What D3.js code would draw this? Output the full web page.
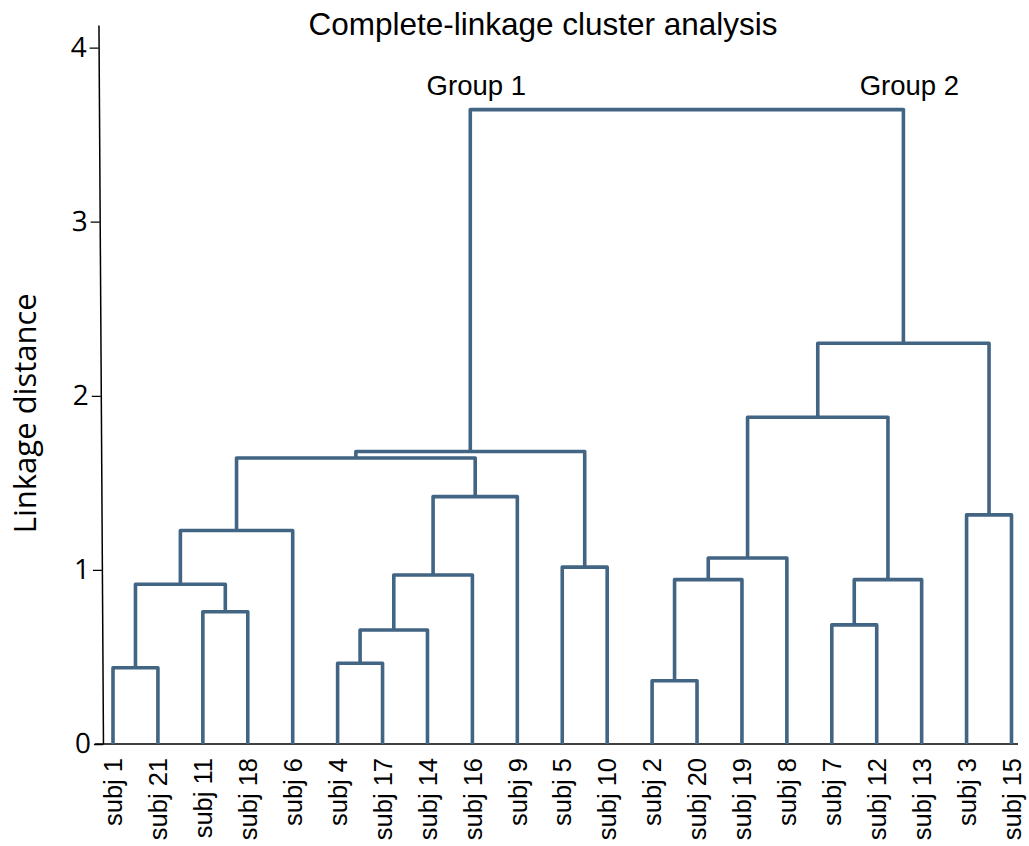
<!DOCTYPE html>
<html>
<head>
<meta charset="utf-8">
<script src="https://cdn.jsdelivr.net/npm/d3@7"></script>
<style>
  body { margin: 0; background: #fff; }
  svg { display: block; }
</style>
</head>
<body>
<script>
// leaves in the order they are drawn
const leaves = ["subj 1", "subj 21", "subj 11", "subj 18", "subj 6", "subj 4", "subj 17",
  "subj 14", "subj 16", "subj 9", "subj 5", "subj 10", "subj 2", "subj 20", "subj 19",
  "subj 8", "subj 7", "subj 12", "subj 13", "subj 3", "subj 15"];

// linkage: [left, right, height]; ids < 21 are leaves, id 21 + k is merge k
const mergeLeft   = [12, 0, 5, 23, 16, 2, 22, 21, 25, 24, 10, 28, 27, 19, 30, 33, 36, 32, 38, 37];
const mergeRight  = [13, 1, 6, 7, 17, 3, 26, 14, 18, 8, 11, 15, 4, 20, 9, 35, 31, 29, 34, 39];
const mergeHeight = [0.363, 0.438, 0.464, 0.655, 0.684, 0.760, 0.918, 0.944, 0.944, 0.971,
  1.016, 1.068, 1.226, 1.316, 1.421, 1.643, 1.680, 1.877, 2.302, 3.644];

const yTicks = [0, 1, 2, 3, 4];
const groupNames = ["Group 1", "Group 2"];

const width = 1029, height = 846;
const lineColor = "#416583";

// build nested tree from the linkage rows
const nodes = leaves.map(name => ({name, h: 0}));
mergeLeft.forEach((a, k) => {
  nodes.push({name: "m" + k, h: mergeHeight[k], children: [nodes[a], nodes[mergeRight[k]]]});
});
const root = d3.hierarchy(nodes[nodes.length - 1]);

const x = d3.scalePoint().domain(leaves).range([113, 1011.5]);
const y = d3.scaleLinear().domain([0, 4.13]).range([744, 25]);

// x of a node = middle of its children
root.eachAfter(d => {
  d.px = d.children ? (d.children[0].px + d.children[1].px) / 2 : x(d.data.name);
  d.py = y(d.data.h);
});

const svg = d3.select("body").append("svg")
    .attr("width", width)
    .attr("height", height);

// baseline
svg.append("line")
    .attr("x1", 95).attr("x2", 1018)
    .attr("y1", y(0)).attr("y2", y(0))
    .attr("stroke", "#000")
    .attr("stroke-width", 1.5);

// dendrogram links
svg.append("g")
    .attr("fill", "none")
    .attr("stroke", lineColor)
    .attr("stroke-width", 3.6)
    .attr("stroke-linejoin", "round")
  .selectAll("path")
  .data(root.descendants().filter(d => d.children))
  .join("path")
    .attr("d", d => {
      const [a, b] = d.children;
      return `M${a.px},${a.py}V${d.py}H${b.px}V${b.py}`;
    });

// y axis, slightly leaning like the original
const yAxis = svg.append("g")
    .attr("transform", "translate(98.3,0) skewX(0.36)")
    .call(d3.axisLeft(y).tickValues(yTicks).tickFormat(d3.format("d")).tickSize(9).tickSizeOuter(0));
yAxis.select(".domain").attr("stroke-width", 1.5);
yAxis.selectAll(".tick line").attr("stroke-width", 1.3);
yAxis.selectAll("text")
    .attr("font-family", "'Open Sans', sans-serif")
    .attr("font-size", 28)
    .attr("fill", "#000")
    .attr("x", -12);

svg.append("text")
    .attr("transform", `translate(36,${y(1.9)}) rotate(-90)`)
    .attr("text-anchor", "middle")
    .attr("font-family", "'Open Sans', sans-serif")
    .attr("font-size", 31)
    .text("Linkage distance");

// leaf labels
svg.append("g")
    .attr("font-family", "'Liberation Sans', Arial, sans-serif")
    .attr("font-size", 25.5)
  .selectAll("text")
  .data(leaves)
  .join("text")
    .attr("transform", d => `translate(${x(d)},758) rotate(-90)`)
    .attr("text-anchor", "end")
    .attr("dy", "0.36em")
    .text(d => d);

// title and group names
svg.append("text")
    .attr("x", 543).attr("y", 35)
    .attr("text-anchor", "middle")
    .attr("font-family", "'Liberation Sans', Arial, sans-serif")
    .attr("font-size", 31.5)
    .text("Complete-linkage cluster analysis");

svg.append("g")
    .attr("font-family", "'Liberation Sans', Arial, sans-serif")
    .attr("font-size", 27.5)
    .attr("text-anchor", "middle")
  .selectAll("text")
  .data(root.children)
  .join("text")
    .attr("x", (d, i) => d.px + 6)
    .attr("y", root.py - 15)
    .text((d, i) => groupNames[i]);
</script>
</body>
</html>
